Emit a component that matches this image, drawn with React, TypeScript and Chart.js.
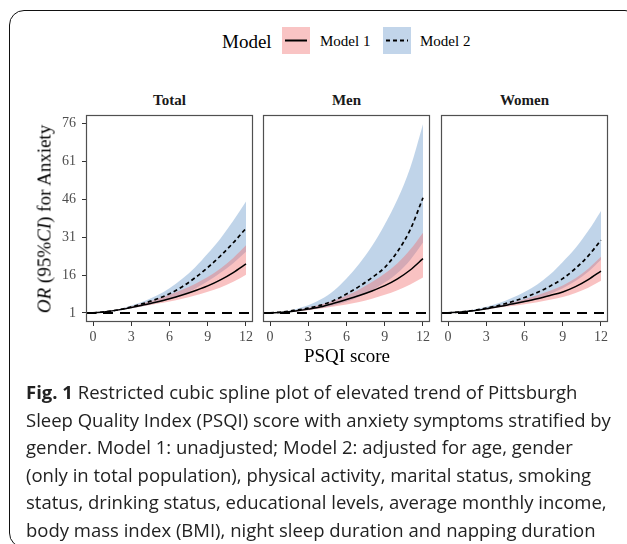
import React, { useEffect, useRef } from "react";
import { Chart, registerables } from "chart.js";

Chart.register(...registerables);

// ---------------- data ----------------
const psqi = [0, 1, 2, 3, 4, 5, 6, 7, 8, 9, 10, 11, 12];
const xTicks = [0, 3, 6, 9, 12];
const yTicks = [1, 16, 31, 46, 61, 76];
const panelTitles = ["Total", "Men", "Women"];

const totalM1 = [1, 1.5, 2.2, 3.1, 4.2, 5.3, 6.6, 8.1, 9.8, 11.7, 14.1, 17.0, 20.4];
const totalM1Lo = [1, 1.4, 2.0, 2.8, 3.7, 4.6, 5.5, 6.6, 7.9, 9.4, 11.1, 13.3, 16.1];
const totalM1Hi = [1, 1.6, 2.4, 3.5, 4.9, 6.4, 8.2, 10.2, 12.5, 15.2, 18.6, 22.8, 27.8];
const totalM2 = [1, 1.5, 2.2, 3.4, 4.8, 6.5, 8.6, 11.4, 14.9, 19.0, 23.6, 28.8, 34.5];
const totalM2Lo = [1, 1.3, 1.9, 2.7, 3.7, 4.9, 6.4, 8.2, 10.6, 13.5, 16.9, 20.7, 25.2];
const totalM2Hi = [1, 1.6, 2.5, 3.9, 5.6, 7.9, 10.8, 14.5, 19.0, 24.5, 30.5, 37.5, 45.1];

const menM1 = [1, 1.3, 1.8, 2.5, 3.4, 4.8, 6.3, 7.9, 9.7, 11.8, 14.5, 18.0, 22.5];
const menM1Lo = [1, 1.2, 1.6, 2.1, 2.7, 3.5, 4.3, 5.3, 6.6, 8.2, 10.0, 12.3, 15.0];
const menM1Hi = [1, 1.4, 2.1, 3.0, 4.3, 5.9, 7.9, 10.3, 13.2, 16.6, 20.7, 26.1, 32.8];
const menM2 = [1, 1.4, 2.1, 2.9, 4.1, 5.9, 8.5, 11.5, 15.0, 19.0, 25.3, 34.0, 46.6];
const menM2Lo = [1, 1.2, 1.6, 2.2, 2.9, 3.9, 5.4, 7.4, 9.9, 13.0, 16.8, 22.0, 28.9];
const menM2Hi = [1, 1.5, 2.5, 4.0, 6.4, 9.8, 14.6, 20.5, 27.5, 36.0, 46.0, 58.5, 75.7];

const womenM1 = [1, 1.4, 1.9, 2.6, 3.5, 4.5, 5.5, 6.6, 7.9, 9.3, 11.4, 14.2, 17.6];
const womenM1Lo = [1, 1.3, 1.8, 2.4, 3.1, 3.7, 4.4, 5.2, 6.2, 7.3, 8.9, 11.0, 13.7];
const womenM1Hi = [1, 1.4, 2.0, 2.8, 3.8, 5.0, 6.4, 8.0, 9.8, 11.9, 14.7, 18.5, 23.2];
const womenM2 = [1, 1.4, 2.0, 2.9, 4.0, 5.4, 7.1, 9.1, 11.6, 14.6, 18.6, 23.6, 29.8];
const womenM2Lo = [1, 1.3, 1.7, 2.4, 3.2, 4.1, 5.2, 6.6, 8.5, 10.8, 13.6, 17.3, 22.1];
const womenM2Hi = [1, 1.5, 2.3, 3.4, 4.9, 6.9, 9.3, 12.3, 16.2, 21.2, 26.7, 33.5, 41.4];

const referenceOR = 1;

const captionLines = [
  "Restricted cubic spline plot of elevated trend of Pittsburgh",
  "Sleep Quality Index (PSQI) score with anxiety symptoms stratified by",
  "gender. Model 1: unadjusted; Model 2: adjusted for age, gender",
  "(only in total population), physical activity, marital status, smoking",
  "status, drinking status, educational levels, average monthly income,",
  "body mass index (BMI), night sleep duration and napping duration",
];

// ---------------- styles ----------------
const PINK = "rgba(240,110,110,0.42)";
const BLUE = "rgba(80,135,195,0.36)";
const SERIF = "'Liberation Serif', 'Times New Roman', serif";
const SANS = "'Open Sans', 'Noto Sans', sans-serif";

const AREA_TOP = 115;
const AREA_W = 167;
const AREA_H = 207;
const panelLefts = [86, 263, 441];

type PanelProps = {
  areaLeft: number;
  showY: boolean;
  m1: number[];
  m1Lo: number[];
  m1Hi: number[];
  m2: number[];
  m2Lo: number[];
  m2Hi: number[];
};

function Panel({ areaLeft, showY, m1, m1Lo, m1Hi, m2, m2Lo, m2Hi }: PanelProps) {
  const ref = useRef<HTMLCanvasElement | null>(null);
  const yW = showY ? 46 : 0;
  const padL = 3;
  const padR = 12;
  const padT = 3;
  const xH = 30;
  const width = padL + yW + AREA_W + padR;
  const height = padT + AREA_H + xH;

  useEffect(() => {
    if (!ref.current) return;
    const pts = (arr: number[]) => psqi.map((x, i) => ({ x, y: arr[i] }));
    const band = (arr: number[], fill: any, color: string) => ({
      data: pts(arr),
      borderColor: "transparent",
      borderWidth: 0,
      pointRadius: 0,
      fill,
      backgroundColor: color,
      cubicInterpolationMode: "monotone" as const,
    });

    const framePlugin = {
      id: "frame",
      beforeDatasetsDraw(chart: any) {
        const { ctx, chartArea, scales } = chart;
        const y = Math.round(scales.y.getPixelForValue(referenceOR));
        ctx.save();
        ctx.strokeStyle = "#000";
        ctx.lineWidth = 2.2;
        ctx.setLineDash([10, 7]);
        ctx.beginPath();
        ctx.moveTo(chartArea.left, y);
        ctx.lineTo(chartArea.right, y);
        ctx.stroke();
        ctx.restore();
      },
      afterDraw(chart: any) {
        const { ctx, chartArea } = chart;
        ctx.save();
        ctx.strokeStyle = "#505050";
        ctx.lineWidth = 1.2;
        ctx.strokeRect(
          chartArea.left + 0.5,
          chartArea.top + 0.5,
          chartArea.right - chartArea.left - 1,
          chartArea.bottom - chartArea.top - 1
        );
        ctx.restore();
      },
    };

    const tickFont = { family: SERIF, size: 14 };
    const noPad = (s: any) => {
      s.paddingTop = 0;
      s.paddingBottom = 0;
      s.paddingLeft = 0;
      s.paddingRight = 0;
    };

    const chart = new Chart(ref.current, {
      type: "line",
      data: {
        datasets: [
          {
            data: pts(m2),
            borderColor: "#000",
            borderWidth: 1.7,
            borderDash: [4, 3],
            pointRadius: 0,
            fill: false,
            cubicInterpolationMode: "monotone",
          },
          {
            data: pts(m1),
            borderColor: "#000",
            borderWidth: 1.5,
            pointRadius: 0,
            fill: false,
            cubicInterpolationMode: "monotone",
          },
          band(m1Lo, false, "transparent"),
          band(m1Hi, "-1", PINK),
          band(m2Lo, false, "transparent"),
          band(m2Hi, "-1", BLUE),
        ] as any,
      },
      options: {
        animation: false,
        responsive: false,
        devicePixelRatio: 1,
        layout: { autoPadding: false, padding: { left: padL, right: padR, top: padT, bottom: 0 } },
        plugins: {
          legend: { display: false },
          tooltip: { enabled: false },
          filler: { drawTime: "beforeDatasetsDraw" },
        } as any,
        scales: {
          x: {
            type: "linear",
            min: -0.55,
            max: 12.55,
            afterBuildTicks: (axis: any) => {
              axis.ticks = xTicks.map((v) => ({ value: v }));
            },
            afterFit: (s: any) => {
              s.height = xH;
              noPad(s);
            },
            ticks: { font: tickFont, color: "#4d4d4d", padding: 3, maxRotation: 0, autoSkip: false },
            grid: { display: true, drawOnChartArea: false, drawTicks: true, tickLength: 4, color: "#333" },
            border: { display: false },
          },
          y: {
            type: "linear",
            display: showY,
            min: -2.6,
            max: 79.4,
            afterBuildTicks: (axis: any) => {
              axis.ticks = yTicks.map((v) => ({ value: v }));
            },
            afterFit: (s: any) => {
              s.width = yW;
              noPad(s);
            },
            ticks: { font: tickFont, color: "#4d4d4d", padding: 6, autoSkip: false },
            grid: { display: true, drawOnChartArea: false, drawTicks: true, tickLength: 4, color: "#333" },
            border: { display: false },
          },
        },
      } as any,
      plugins: [framePlugin],
    });
    return () => chart.destroy();
  }, []);

  return (
    <canvas
      ref={ref}
      width={width}
      height={height}
      style={{
        position: "absolute",
        left: areaLeft - padL - yW,
        top: AREA_TOP - padT,
        width,
        height,
      }}
    />
  );
}

function KeyBox({ left, color, dashed }: { left: number; color: string; dashed: boolean }) {
  return (
    <svg width={28} height={27} style={{ position: "absolute", left, top: 27 }}>
      <rect x={0} y={0} width={28} height={27} fill={color} />
      <line
        x1={3}
        x2={25}
        y1={13.5}
        y2={13.5}
        stroke="#000"
        strokeWidth={2}
        strokeDasharray={dashed ? "4 3" : undefined}
      />
    </svg>
  );
}

export default function App() {
  const panelData = [
    [totalM1, totalM1Lo, totalM1Hi, totalM2, totalM2Lo, totalM2Hi],
    [menM1, menM1Lo, menM1Hi, menM2, menM2Lo, menM2Hi],
    [womenM1, womenM1Lo, womenM1Hi, womenM2, womenM2Lo, womenM2Hi],
  ];

  return (
    <div
      style={{
        position: "fixed",
        left: 0,
        top: 0,
        width: 627,
        height: 544,
        overflow: "hidden",
        background: "#fff",
      }}
    >
      <div
        style={{
          position: "absolute",
          left: 9,
          top: 10,
          width: 631,
          height: 538,
          border: "1.5px solid #111",
          borderRadius: 15,
          boxSizing: "border-box",
        }}
      />

      <div style={{ position: "absolute", left: 222, top: 32, fontFamily: SERIF, fontSize: 19, lineHeight: "19px", color: "#000", whiteSpace: "nowrap" }}>
        Model
      </div>
      <KeyBox left={282} color="rgb(249,196,196)" dashed={false} />
      <div style={{ position: "absolute", left: 320, top: 34, fontFamily: SERIF, fontSize: 15, lineHeight: "15px", color: "#000", whiteSpace: "nowrap" }}>
        Model 1
      </div>
      <KeyBox left={383} color="rgb(194,213,234)" dashed={true} />
      <div style={{ position: "absolute", left: 420, top: 34, fontFamily: SERIF, fontSize: 15, lineHeight: "15px", color: "#000", whiteSpace: "nowrap" }}>
        Model 2
      </div>

      {panelTitles.map((t, i) => (
        <div
          key={t}
          style={{
            position: "absolute",
            left: panelLefts[i],
            width: AREA_W,
            top: 93,
            textAlign: "center",
            fontFamily: SERIF,
            fontWeight: "bold",
            fontSize: 15,
            lineHeight: "15px",
            color: "#1a1a1a",
          }}
        >
          {t}
        </div>
      ))}

      {panelData.map((d, i) => (
        <Panel
          key={i}
          areaLeft={panelLefts[i]}
          showY={i === 0}
          m1={d[0]}
          m1Lo={d[1]}
          m1Hi={d[2]}
          m2={d[3]}
          m2Lo={d[4]}
          m2Hi={d[5]}
        />
      ))}

      <div
        style={{
          position: "absolute",
          left: 43.5,
          top: AREA_TOP + AREA_H / 2,
          transform: "translate(-50%, -50%) rotate(-90deg)",
          fontFamily: SERIF,
          fontSize: 19,
          lineHeight: "19px",
          whiteSpace: "nowrap",
          color: "#000",
        }}
      >
        <i>OR</i> (95%<i>CI</i>) for Anxiety
      </div>

      <div
        style={{
          position: "absolute",
          left: panelLefts[0],
          width: panelLefts[2] + AREA_W - panelLefts[0],
          top: 345.5,
          textAlign: "center",
          fontFamily: SERIF,
          fontSize: 19,
          lineHeight: "19px",
          color: "#000",
        }}
      >
        PSQI score
      </div>

      <div
        style={{
          position: "absolute",
          left: 26,
          top: 378,
          fontFamily: SANS,
          fontSize: 18.5,
          lineHeight: "27.6px",
          color: "#222",
          whiteSpace: "nowrap",
        }}
      >
        {captionLines.map((line, i) => (
          <div key={i}>
            {i === 0 ? <b>Fig. 1 </b> : null}
            {line}
          </div>
        ))}
      </div>
    </div>
  );
}
